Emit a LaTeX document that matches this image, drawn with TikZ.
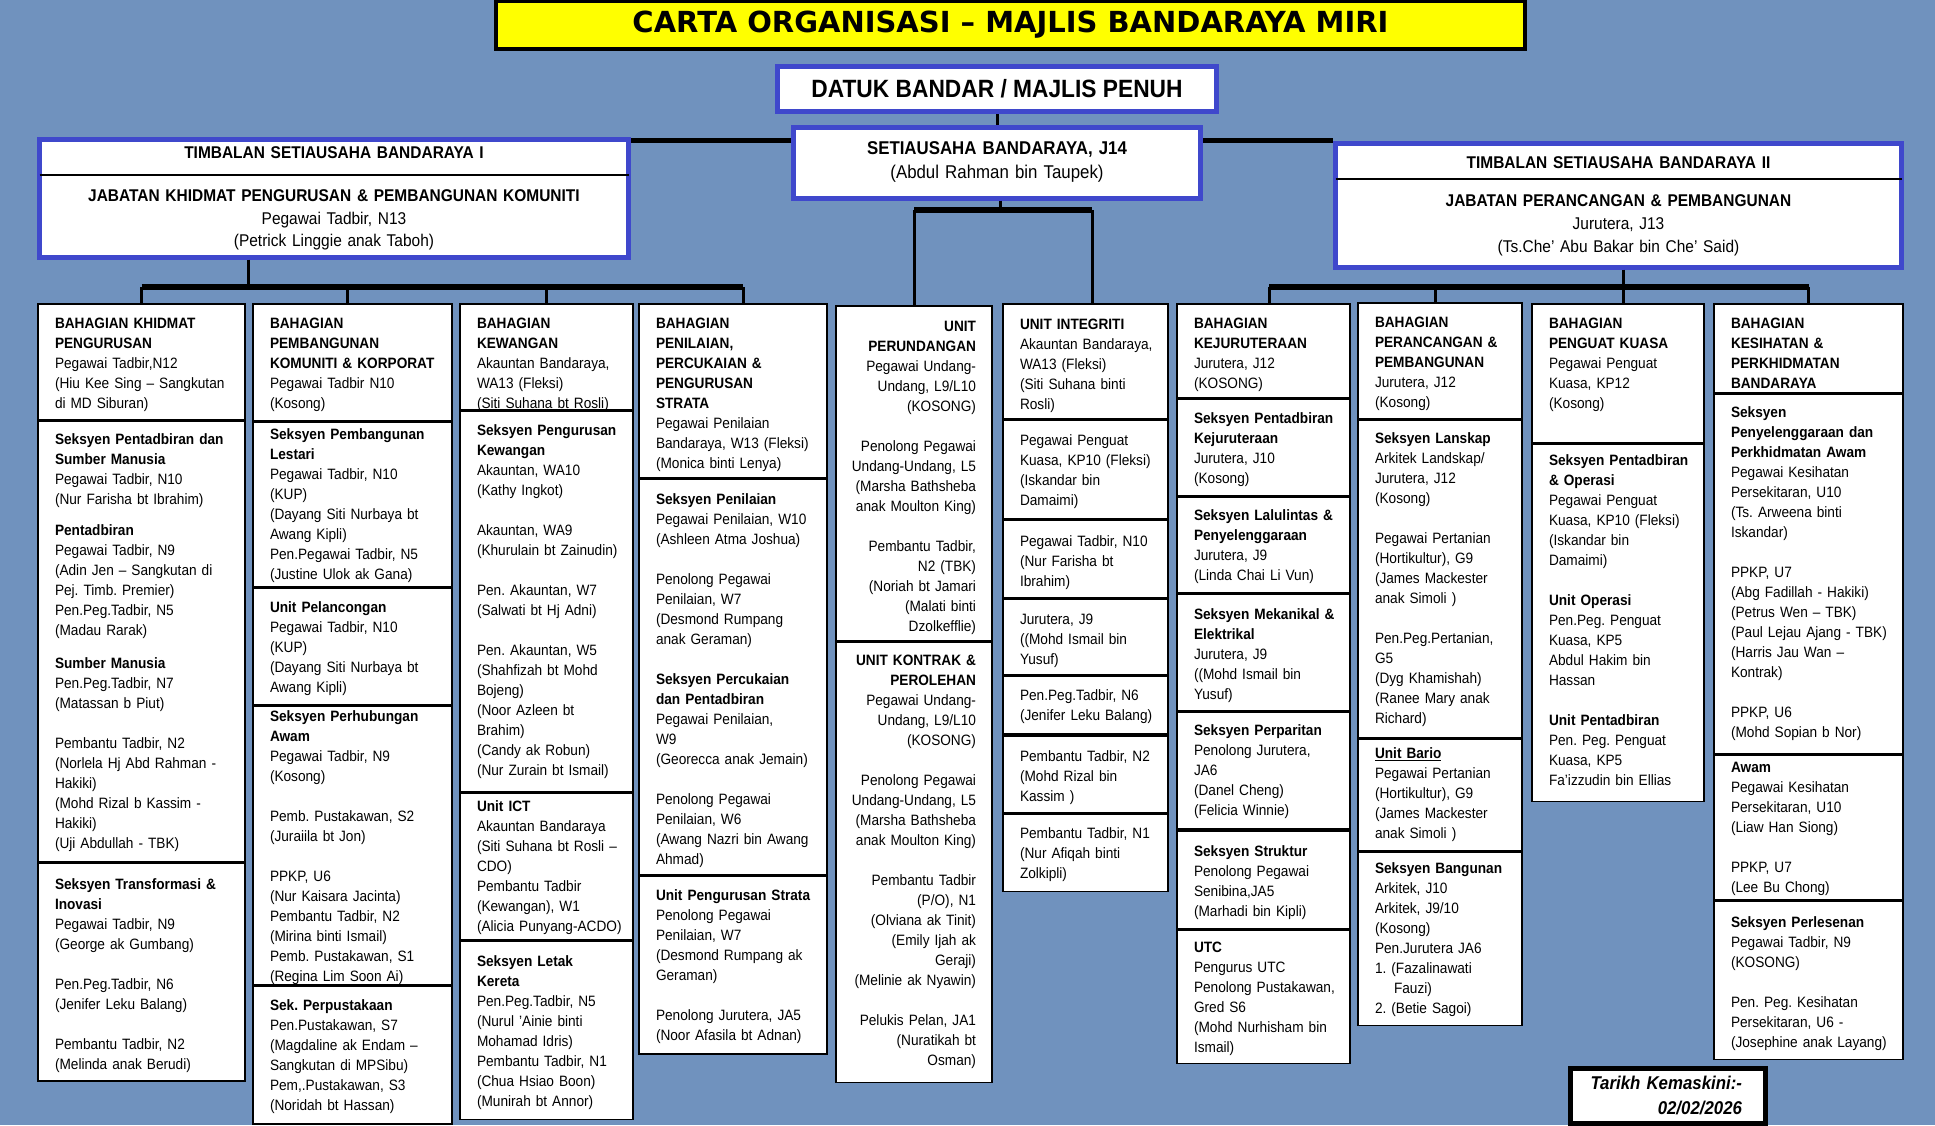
\documentclass[tikz,border=0pt]{standalone}
\usepackage{fontspec}
\setmainfont{Liberation Sans}[FakeStretch=0.91]
\newfontfamily\titlefont{DejaVu Sans}
\usetikzlibrary{positioning}
\frenchspacing
\definecolor{mbbg}{RGB}{112,146,190}
\definecolor{mbblue}{RGB}{63,72,204}
\definecolor{mbyellow}{RGB}{255,255,0}
\tikzset{
        banner/.style = {draw=black, fill=mbyellow, line width=4pt, inner sep=0pt, minimum width=1029pt, minimum height=48pt, font=\titlefont\bfseries\fontsize{29}{34}\selectfont},
        chief/.style = {draw=mbblue, fill=white, line width=5pt, inner sep=0pt, anchor=north},
        cell/.style = {draw=black, fill=white, line width=1.6pt, inner sep=0pt, anchor=north, text width=#1, font=\fontsize{15}{20}\selectfont, execute at begin node={\leftskip=17pt}},
        rcell/.style = {cell=#1, execute at begin node={\raggedleft\rightskip=16pt}},
        stamp/.style = {draw=black, fill=white, line width=5pt, inner sep=0pt, anchor=north, font=\bfseries\itshape\fontsize{18.5}{25}\selectfont, execute at begin node={\raggedleft\rightskip=23.5pt}},
        link/.style = {line width=3pt},
        bar/.style = {line width=5.5pt},
        rule/.style = {line width=2pt},
    }
\begin{document}
\begin{tikzpicture}[x=1pt, y=-1pt]
    \path[use as bounding box, fill=mbbg] (0,0) rectangle (1935,1125);

    % top of the chart
    \node [banner] (title) at (1010.5,25) {CARTA ORGANISASI – MAJLIS BANDARAYA MIRI};
    \node [chief, minimum width=439pt, minimum height=45pt, anchor=center, font=\bfseries\fontsize{25}{30}\selectfont] (datuk) at (997,89) {DATUK BANDAR / MAJLIS PENUH};
    \node [chief, text width=407pt, align=center, text height=27.5pt, text depth=43.5pt, font=\fontsize{18.5}{24}\selectfont] (setiausaha) at (997,124.5)
        {\textbf{SETIAUSAHA BANDARAYA, J14}\\ (Abdul Rahman bin Taupek)};
    \node [chief, text width=589pt, align=center, text height=19.5pt, text depth=98.5pt, font=\fontsize{17}{22.5}\selectfont] (timbalanI) at (334,136.5)
        {\textbf{TIMBALAN SETIAUSAHA BANDARAYA I}\\[20.5pt] \textbf{JABATAN KHIDMAT PENGURUSAN \& PEMBANGUNAN KOMUNITI}\\ Pegawai Tadbir, N13\\ (Petrick Linggie anak Taboh)};
    \node [chief, text width=566pt, align=center, text height=25.5pt, text depth=98.5pt, font=\fontsize{17}{23}\selectfont] (timbalanII) at (1618.5,140.5)
        {\textbf{TIMBALAN SETIAUSAHA BANDARAYA II}\\[15pt] \textbf{JABATAN PERANCANGAN \& PEMBANGUNAN}\\ Jurutera, J13\\ (Ts.Che' Abu Bakar bin Che' Said)};
    \draw [rule] ([shift={(2.5pt,-38.5pt)}]timbalanI.north west) -- ([shift={(-2.5pt,-38.5pt)}]timbalanI.north east);
    \draw [rule] ([shift={(2.5pt,-38.5pt)}]timbalanII.north west) -- ([shift={(-2.5pt,-38.5pt)}]timbalanII.north east);

    % column 1
    \node [cell=207pt, text height=24.5pt, text depth=91.5pt] (khidmat) at (141.5,303)
        {\textbf{BAHAGIAN KHIDMAT}\\ \textbf{PENGURUSAN}\\ Pegawai Tadbir,N12\\ (Hiu Kee Sing – Sangkutan\\ di MD Siburan)};
    \node [cell=207pt, text height=23.5pt, text depth=416.5pt, below=0pt of khidmat] (pentadbiranSM)
        {\textbf{Seksyen Pentadbiran dan}\\ \textbf{Sumber Manusia}\\ Pegawai Tadbir, N10\\ (Nur Farisha bt Ibrahim)\\[11pt] \textbf{Pentadbiran}\\ Pegawai Tadbir, N9\\ (Adin Jen – Sangkutan di\\ Pej. Timb. Premier)\\ Pen.Peg.Tadbir, N5\\ (Madau Rarak)\\[13pt] \textbf{Sumber Manusia}\\ Pen.Peg.Tadbir, N7\\ (Matassan b Piut)\\[20pt] Pembantu Tadbir, N2\\ (Norlela Hj Abd Rahman -\\ Hakiki)\\ (Mohd Rizal b Kassim -\\ Hakiki)\\ (Uji Abdullah - TBK)};
    \node [cell=207pt, text height=26.5pt, text depth=191.5pt, below=0pt of pentadbiranSM] (transformasi)
        {\textbf{Seksyen Transformasi \&}\\ \textbf{Inovasi}\\ Pegawai Tadbir, N9\\ (George ak Gumbang)\\[20pt] Pen.Peg.Tadbir, N6\\ (Jenifer Leku Balang)\\[20pt] Pembantu Tadbir, N2\\ (Melinda anak Berudi)};

    % column 2
    \node [cell=199pt, text height=24.5pt, text depth=92.5pt] (pembangunan) at (352.5,303)
        {\textbf{BAHAGIAN}\\ \textbf{PEMBANGUNAN}\\ \textbf{KOMUNITI \& KORPORAT}\\ Pegawai Tadbir N10\\ (Kosong)};
    \node [cell=199pt, text height=17.5pt, text depth=146.5pt, below=0pt of pembangunan] (lestari)
        {\textbf{Seksyen Pembangunan}\\ \textbf{Lestari}\\ Pegawai Tadbir, N10\\ (KUP)\\ (Dayang Siti Nurbaya bt\\ Awang Kipli)\\ Pen.Pegawai Tadbir, N5\\ (Justine Ulok ak Gana)};
    \node [cell=199pt, text height=24.5pt, text depth=92.5pt, below=0pt of lestari] (pelancongan)
        {\textbf{Unit Pelancongan}\\ Pegawai Tadbir, N10\\ (KUP)\\ (Dayang Siti Nurbaya bt\\ Awang Kipli)};
    \node [cell=199pt, text height=14.5pt, text depth=263.5pt, below=0pt of pelancongan] (perhubungan)
        {\textbf{Seksyen Perhubungan}\\ \textbf{Awam}\\ Pegawai Tadbir, N9\\ (Kosong)\\[20pt] Pemb. Pustakawan, S2\\ (Juraiila bt Jon)\\[20pt] PPKP, U6\\ (Nur Kaisara Jacinta)\\ Pembantu Tadbir, N2\\ (Mirina binti Ismail)\\ Pemb. Pustakawan, S1\\ (Regina Lim Soon Ai)};
    \node [cell=199pt, text height=24.5pt, text depth=113.5pt, below=0pt of perhubungan] (perpustakaan)
        {\textbf{Sek. Perpustakaan}\\ Pen.Pustakawan, S7\\ (Magdaline ak Endam –\\ Sangkutan di MPSibu)\\ Pem,.Pustakawan, S3\\ (Noridah bt Hassan)};

    % column 3
    \node [cell=173pt, text height=24.5pt, text depth=81.5pt] (kewangan) at (546.5,303)
        {\textbf{BAHAGIAN}\\ \textbf{KEWANGAN}\\ Akauntan Bandaraya,\\ WA13 (Fleksi)\\ (Siti Suhana bt Rosli)};
    \node [cell=173pt, text height=24.5pt, text depth=355.5pt, below=0pt of kewangan] (pengurusanKew)
        {\textbf{Seksyen Pengurusan}\\ \textbf{Kewangan}\\ Akauntan, WA10\\ (Kathy Ingkot)\\[20pt] Akauntan, WA9\\ (Khurulain bt Zainudin)\\[20pt] Pen. Akauntan, W7\\ (Salwati bt Hj Adni)\\[20pt] Pen. Akauntan, W5\\ (Shahfizah bt Mohd\\ Bojeng)\\ (Noor Azleen bt\\ Brahim)\\ (Candy ak Robun)\\ (Nur Zurain bt Ismail)};
    \node [cell=173pt, text height=18.5pt, text depth=128.5pt, below=0pt of pengurusanKew] (ict)
        {\textbf{Unit ICT}\\ Akauntan Bandaraya\\ (Siti Suhana bt Rosli –\\ CDO)\\ Pembantu Tadbir\\ (Kewangan), W1\\ (Alicia Punyang-ACDO)};
    \node [cell=173pt, text height=24.5pt, text depth=153.5pt, below=0pt of ict] (letakKereta)
        {\textbf{Seksyen Letak}\\ \textbf{Kereta}\\ Pen.Peg.Tadbir, N5\\ (Nurul 'Ainie binti\\ Mohamad Idris)\\ Pembantu Tadbir, N1\\ (Chua Hsiao Boon)\\ (Munirah bt Annor)};

    % column 4
    \node [cell=188pt, text height=24.5pt, text depth=149.5pt] (penilaian) at (733,303)
        {\textbf{BAHAGIAN}\\ \textbf{PENILAIAN,}\\ \textbf{PERCUKAIAN \&}\\ \textbf{PENGURUSAN}\\ \textbf{STRATA}\\ Pegawai Penilaian\\ Bandaraya, W13 (Fleksi)\\ (Monica binti Lenya)};
    \node [cell=188pt, text height=25.5pt, text depth=369.5pt, below=0pt of penilaian] (seksyenPenilaian)
        {\textbf{Seksyen Penilaian}\\ Pegawai Penilaian, W10\\ (Ashleen Atma Joshua)\\[20pt] Penolong Pegawai\\ Penilaian, W7\\ (Desmond Rumpang\\ anak Geraman)\\[20pt] \textbf{Seksyen Percukaian}\\ \textbf{dan Pentadbiran}\\ Pegawai Penilaian,\\ W9\\ (Georecca anak Jemain)\\[20pt] Penolong Pegawai\\ Penilaian, W6\\ (Awang Nazri bin Awang\\ Ahmad)};
    \node [cell=188pt, text height=24.5pt, text depth=153.5pt, below=0pt of seksyenPenilaian] (strata)
        {\textbf{Unit Pengurusan Strata}\\ Penolong Pegawai\\ Penilaian, W7\\ (Desmond Rumpang ak\\ Geraman)\\[20pt] Penolong Jurutera, JA5\\ (Noor Afasila bt Adnan)};

    % column 5
    \node [rcell=156pt, text height=25.5pt, text depth=309.5pt] (perundangan) at (914,305)
        {\textbf{UNIT}\\ \textbf{PERUNDANGAN}\\ Pegawai Undang-\\ Undang, L9/L10\\ (KOSONG)\\[20pt] Penolong Pegawai\\ Undang-Undang, L5\\ (Marsha Bathsheba\\ anak Moulton King)\\[20pt] Pembantu Tadbir,\\ N2 (TBK)\\ (Noriah bt Jamari\\ (Malati binti\\ Dzolkefflie)};
    \node [rcell=156pt, text height=23.5pt, text depth=416.5pt, below=0pt of perundangan] (kontrak)
        {\textbf{UNIT KONTRAK \&}\\ \textbf{PEROLEHAN}\\ Pegawai Undang-\\ Undang, L9/L10\\ (KOSONG)\\[20pt] Penolong Pegawai\\ Undang-Undang, L5\\ (Marsha Bathsheba\\ anak Moulton King)\\[20pt] Pembantu Tadbir\\ (P/O), N1\\ (Olviana ak Tinit)\\ (Emily Ijah ak\\ Geraji)\\ (Melinie ak Nyawin)\\[20pt] Pelukis Pelan, JA1\\ (Nuratikah bt\\ Osman)};

    % column 6
    \node [cell=165pt, text height=25.5pt, text depth=89.5pt] (integriti) at (1085.5,303)
        {\textbf{UNIT INTEGRITI}\\ Akauntan Bandaraya,\\ WA13 (Fleksi)\\ (Siti Suhana binti\\ Rosli)};
    \node [cell=165pt, text height=25.5pt, text depth=72.5pt, below=0pt of integriti] (penguatInt)
        {Pegawai Penguat\\ Kuasa, KP10 (Fleksi)\\ (Iskandar bin\\ Damaimi)};
    \node [cell=165pt, text height=26.5pt, text depth=51.5pt, below=0pt of penguatInt] (tadbirInt)
        {Pegawai Tadbir, N10\\ (Nur Farisha bt\\ Ibrahim)};
    \node [cell=165pt, text height=24.5pt, text depth=50.5pt, below=0pt of tadbirInt] (juruteraInt)
        {Jurutera, J9\\ ((Mohd Ismail bin\\ Yusuf)};
    \node [cell=165pt, text height=24.5pt, text depth=33.5pt, below=0pt of juruteraInt] (penPegInt)
        {Pen.Peg.Tadbir, N6\\ (Jenifer Leku Balang)};
    \node [cell=165pt, text height=25.5pt, text depth=51.5pt, below=0pt of penPegInt] (pembantuIntA)
        {Pembantu Tadbir, N2\\ (Mohd Rizal bin\\ Kassim )};
    \node [cell=165pt, text height=24.5pt, text depth=52.5pt, below=0pt of pembantuIntA] (pembantuIntB)
        {Pembantu Tadbir, N1\\ (Nur Afiqah binti\\ Zolkipli)};

    % column 7
    \node [cell=173pt, text height=24.5pt, text depth=69.5pt] (kejuruteraan) at (1263.5,303)
        {\textbf{BAHAGIAN}\\ \textbf{KEJURUTERAAN}\\ Jurutera, J12\\ (KOSONG)};
    \node [cell=173pt, text height=24.5pt, text depth=71.5pt, below=0pt of kejuruteraan] (pentadbiranKej)
        {\textbf{Seksyen Pentadbiran}\\ \textbf{Kejuruteraan}\\ Jurutera, J10\\ (Kosong)};
    \node [cell=173pt, text height=23.5pt, text depth=72.5pt, below=0pt of pentadbiranKej] (lalulintas)
        {\textbf{Seksyen Lalulintas \&}\\ \textbf{Penyelenggaraan}\\ Jurutera, J9\\ (Linda Chai Li Vun)};
    \node [cell=173pt, text height=24.5pt, text depth=91.5pt, below=0pt of lalulintas] (mekanikal)
        {\textbf{Seksyen Mekanikal \&}\\ \textbf{Elektrikal}\\ Jurutera, J9\\ ((Mohd Ismail bin\\ Yusuf)};
    \node [cell=173pt, text height=23.5pt, text depth=93.5pt, below=0pt of mekanikal] (perparitan)
        {\textbf{Seksyen Perparitan}\\ Penolong Jurutera,\\ JA6\\ (Danel Cheng)\\ (Felicia Winnie)};
    \node [cell=173pt, text height=25.5pt, text depth=72.5pt, below=0pt of perparitan] (struktur)
        {\textbf{Seksyen Struktur}\\ Penolong Pegawai\\ Senibina,JA5\\ (Marhadi bin Kipli)};
    \node [cell=173pt, text height=22.5pt, text depth=110.5pt, below=0pt of struktur] (utc)
        {\textbf{UTC}\\ Pengurus UTC\\ Penolong Pustakawan,\\ Gred S6\\ (Mohd Nurhisham bin\\ Ismail)};

    % column 8
    \node [cell=164pt, text height=24.5pt, text depth=91.5pt] (perancangan) at (1440,302)
        {\textbf{BAHAGIAN}\\ \textbf{PERANCANGAN \&}\\ \textbf{PEMBANGUNAN}\\ Jurutera, J12\\ (Kosong)};
    \node [cell=164pt, text height=23.5pt, text depth=293.5pt, below=0pt of perancangan] (lanskap)
        {\textbf{Seksyen Lanskap}\\ Arkitek Landskap/\\ Jurutera, J12\\ (Kosong)\\[20pt] Pegawai Pertanian\\ (Hortikultur), G9\\ (James Mackester\\ anak Simoli )\\[20pt] Pen.Peg.Pertanian,\\ G5\\ (Dyg Khamishah)\\ (Ranee Mary anak\\ Richard)};
    \node [cell=164pt, text height=19.5pt, text depth=92.5pt, below=0pt of lanskap] (bario)
        {\underline{\textbf{Unit Bario}}\\ Pegawai Pertanian\\ (Hortikultur), G9\\ (James Mackester\\ anak Simoli )};
    \node [cell=164pt, text height=20.5pt, text depth=152.5pt, below=0pt of bario] (bangunan)
        {\textbf{Seksyen Bangunan}\\ Arkitek, J10\\ Arkitek, J9/10\\ (Kosong)\\ Pen.Jurutera JA6\\ 1. (Fazalinawati\\ \hspace*{19pt}Fauzi)\\ 2. (Betie Sagoi)};

    % column 9
    \node [cell=172pt, text height=24.5pt, text depth=114.5pt] (penguatKuasa) at (1618,303)
        {\textbf{BAHAGIAN}\\ \textbf{PENGUAT KUASA}\\ Pegawai Penguat\\ Kuasa, KP12\\ (Kosong)};
    \node [cell=172pt, text height=21.5pt, text depth=335.5pt, below=0pt of penguatKuasa] (operasi)
        {\textbf{Seksyen Pentadbiran}\\ \textbf{\& Operasi}\\ Pegawai Penguat\\ Kuasa, KP10 (Fleksi)\\ (Iskandar bin\\ Damaimi)\\[20pt] \textbf{Unit Operasi}\\ Pen.Peg. Penguat\\ Kuasa, KP5\\ Abdul Hakim bin\\ Hassan\\[20pt] \textbf{Unit Pentadbiran}\\ Pen. Peg. Penguat\\ Kuasa, KP5\\ Fa'izzudin bin Ellias};

    % column 10
    \node [cell=189pt, text height=24.5pt, text depth=64.5pt] (kesihatan) at (1808.5,303)
        {\textbf{BAHAGIAN}\\ \textbf{KESIHATAN \&}\\ \textbf{PERKHIDMATAN}\\ \textbf{BANDARAYA}};
    \node [cell=189pt, text height=23.5pt, text depth=335.5pt, below=0pt of kesihatan] (penyelenggaraan)
        {\textbf{Seksyen}\\ \textbf{Penyelenggaraan dan}\\ \textbf{Perkhidmatan Awam}\\ Pegawai Kesihatan\\ Persekitaran, U10\\ (Ts. Arweena binti\\ Iskandar)\\[20pt] PPKP, U7\\ (Abg Fadillah - Hakiki)\\ (Petrus Wen – TBK)\\ (Paul Lejau Ajang - TBK)\\ (Harris Jau Wan –\\ Kontrak)\\[20pt] PPKP, U6\\ (Mohd Sopian b Nor)};
    \node [cell=189pt, text height=17.5pt, text depth=127.5pt, below=0pt of penyelenggaraan] (awam)
        {\textbf{Awam}\\ Pegawai Kesihatan\\ Persekitaran, U10\\ (Liaw Han Siong)\\[20pt] PPKP, U7\\ (Lee Bu Chong)};
    \node [cell=189pt, text height=25.5pt, text depth=132.5pt, below=0pt of awam] (perlesenan)
        {\textbf{Seksyen Perlesenan}\\ Pegawai Tadbir, N9\\ (KOSONG)\\[20pt] Pen. Peg. Kesihatan\\ Persekitaran, U6 -\\ (Josephine anak Layang)};

    \node [stamp, text width=195pt, text height=21pt, text depth=34pt] (tarikh) at (1668,1065.5) {Tarikh Kemaskini:-\\ 02/02/2026};

    % connectors
    \draw [link] (datuk.south) -- (setiausaha.north);
    \draw [bar] (setiausaha.west |- timbalanII.north) -- (timbalanI.east |- timbalanII.north);
    \draw [bar] (setiausaha.east |- timbalanII.north) -- (timbalanII.north west);

    \coordinate (busI) at (248,287);
    \draw [link] (busI |- timbalanI.south) -- (busI);
    \draw [bar] (khidmat.north |- busI) -- ([xshift=10pt]penilaian.north |- busI);
    \draw [link] (khidmat.north) -- (khidmat.north |- busI);
    \draw [link] ([xshift=-5.5pt]pembangunan.north) -- ([xshift=-5.5pt]pembangunan.north |- busI);
    \draw [link] (kewangan.north) -- (kewangan.north |- busI);
    \draw [link] ([xshift=10pt]penilaian.north) -- ([xshift=10pt]penilaian.north |- busI);

    \coordinate (busS) at (1000,210);
    \draw [link] (busS |- setiausaha.south) -- (busS);
    \draw [bar] (perundangan.north |- busS) -- ([xshift=6.5pt]integriti.north |- busS);
    \draw [link] (perundangan.north) -- (perundangan.north |- busS);
    \draw [link] ([xshift=6.5pt]integriti.north) -- ([xshift=6.5pt]integriti.north |- busS);

    \coordinate (busII) at (1623,287);
    \draw [link] (busII |- timbalanII.south) -- (busII);
    \draw [bar] ([xshift=5.5pt]kejuruteraan.north |- busII) -- (kesihatan.north |- busII);
    \draw [link] ([xshift=5.5pt]kejuruteraan.north) -- ([xshift=5.5pt]kejuruteraan.north |- busII);
    \draw [link] ([xshift=-5pt]perancangan.north) -- ([xshift=-5pt]perancangan.north |- busII);
    \draw [link] ([xshift=5pt]penguatKuasa.north) -- ([xshift=5pt]penguatKuasa.north |- busII);
    \draw [link] (kesihatan.north) -- (kesihatan.north |- busII);

\end{tikzpicture}
\end{document}
